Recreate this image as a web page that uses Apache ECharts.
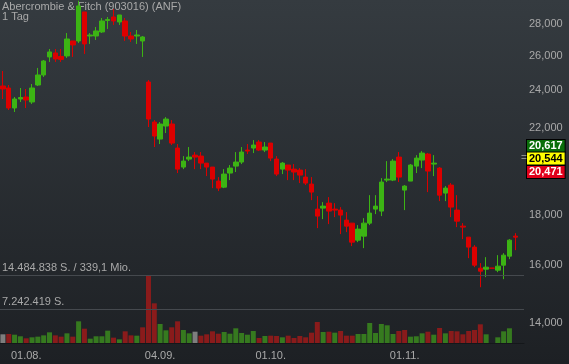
<!DOCTYPE html>
<html><head><meta charset="utf-8">
<script src="https://cdn.jsdelivr.net/npm/echarts@6/dist/echarts.min.js"></script>
<style>html,body{margin:0;padding:0;background:#26292e}#c{width:569px;height:364px}</style>
</head><body><div id="c"></div>
<script>
const titleText = 'Abercrombie & Fitch (903016) (ANF)';
const periodText = '1 Tag';
const turnoverText = '339,1 Mio.';

const dates = ['26.07.','29.07.','30.07.','31.07.','01.08.','02.08.','05.08.','06.08.','07.08.','08.08.',
'09.08.','12.08.','13.08.','14.08.','15.08.','16.08.','19.08.','20.08.','21.08.','22.08.',
'23.08.','26.08.','27.08.','28.08.','29.08.','30.08.','03.09.','04.09.','05.09.','06.09.',
'09.09.','10.09.','11.09.','12.09.','13.09.','16.09.','17.09.','18.09.','19.09.','20.09.',
'23.09.','24.09.','25.09.','26.09.','27.09.','30.09.','01.10.','02.10.','03.10.','04.10.',
'07.10.','08.10.','09.10.','10.10.','11.10.','14.10.','15.10.','16.10.','17.10.','18.10.',
'21.10.','22.10.','23.10.','24.10.','25.10.','28.10.','29.10.','30.10.','31.10.','01.11.',
'04.11.','05.11.','06.11.','07.11.','08.11.','11.11.','12.11.','13.11.','14.11.','15.11.',
'18.11.','19.11.','20.11.','21.11.','22.11.','25.11.','26.11.','27.11.','29.11.','02.12.'];

const opens = [24251,24138,23045,23529,23640,23367,24306,24877,25939,26180,
25970,26000,26918,26918,28792,27230,27230,27486,28228,28458,
28130,28195,27230,27230,26918,24475,22306,21443,22101,22203,
21001,20095,20470,20660,20613,20280,20095,19453,19182,19818,
20140,20330,20903,21001,21295,20903,21245,20470,20000,20190,
20000,19955,19633,19318,18229,18271,18484,18229,18187,17770,
17646,16964,17122,17646,18229,18145,19497,19497,20565,19050,
19453,20140,20423,20710,20235,20047,18918,19273,18187,17524,
17082,16692,15897,15860,15897,15823,16008,16346,17122];

const closes = [24082,23045,23529,23612,23474,24138,24877,25697,26241,25818,
25790,27042,26670,29196,26732,27293,27550,28195,28294,28195,
28590,27230,27042,27293,27168,22460,21594,22203,22460,21245,
20000,20375,20565,20565,20280,20095,19543,19138,19771,20047,
20330,20806,20855,21148,20903,21050,20518,19771,20280,19955,
19865,19725,19363,18962,17936,18356,18145,18187,17978,17524,
16886,17403,17646,18061,18356,19408,19543,20375,19633,19228,
20190,20518,20758,19910,20280,18829,19138,18314,17728,17484,
16692,16008,15786,15934,15897,15970,16384,16964,17082];

const lows = [23529,22936,22830,23367,23044,23260,24251,24762,25640,25640,
25640,25879,25939,26794,26120,26732,26980,27419,27678,27935,
27935,26918,26856,26732,25939,22050,21050,21197,21745,21148,
19818,20000,20375,20000,20000,19680,19138,19006,19138,19497,
19865,20235,20710,20758,20855,20806,20375,19680,19771,19497,
19497,19363,19273,18613,17443,17811,17607,17894,17203,17282,
16731,16886,16653,17565,18019,17936,19408,19453,19408,18187,
19453,19818,20047,18962,19680,18570,18570,17894,17484,17003,
16270,15934,15210,15570,15897,15750,15496,16232,16575];

const highs = [25109,24306,23640,24138,24082,24362,25286,25758,26422,26422,
26422,27419,26918,29550,28792,27419,27806,28392,28458,28990,
28590,28392,27486,27613,27230,24590,22410,22306,22562,22410,
21197,20613,21050,20806,20806,20280,20095,19633,20000,20190,
20806,21050,21197,21393,21393,21295,21245,20613,20330,20190,
20235,20047,20000,19633,18786,18527,18743,18484,18314,18103,
17646,17565,17852,18829,18829,19588,20375,20470,20806,19273,
20235,20660,20855,20758,20660,20095,19228,19363,18829,17646,
17082,16770,16085,16308,15897,16384,16460,17003,17242];

const volumes = [1850000,1920000,1770000,1430000,1000000,1210000,1350000,1630000,2270000,1630000,
1350000,2060000,1350000,4620000,3050000,920000,1430000,1430000,2630000,1140000,
780000,2490000,1630000,1560000,3340000,14484838,8450000,4050000,2700000,3340000,
4620000,2770000,2060000,2410000,1560000,1850000,2490000,1980000,2340000,1980000,
3130000,2130000,1770000,2560000,1070000,1490000,1560000,1490000,1210000,1560000,
1070000,1490000,1210000,2200000,4470000,2340000,2410000,2200000,2560000,1560000,
1560000,1920000,1920000,4260000,2130000,4050000,3770000,1920000,2560000,2770000,
1350000,1430000,2060000,2410000,1770000,3200000,2060000,2560000,2490000,1850000,
2560000,2770000,3980000,1850000,0,1210000,2490000,3130000,0];

const priceTicks = [14000,16000,18000,20000,22000,24000,26000,28000];
const dateLabels = ['01.08.','04.09.','01.10.','01.11.'];
const quoteValues = [20617, 20544, 20471];

const FONT = '"Liberation Sans", Arial, sans-serif';
const TXT = '#a9a9a9';
const UP = '#3cb414', DOWN = '#dc0000';
const VUP = '#367a1f', VDOWN = '#8a1b1b', VFLAT = '#7e7e7e';

const fmtEN = v => String(Math.round(v)).replace(/\B(?=(\d{3})+(?!\d))/g, ',');
const fmtDE = v => String(Math.round(v)).replace(/\B(?=(\d{3})+(?!\d))/g, '.');

const candles = opens.map((o, i) => [o, closes[i], lows[i], highs[i]]);
const volData = volumes.map((v, i) => {
  let c = VFLAT;
  if (i > 0) c = closes[i] > closes[i-1] ? VUP : (closes[i] < closes[i-1] ? VDOWN : VFLAT);
  return { value: v, itemStyle: { color: c } };
});
const volMax = Math.max(...volumes);

const quoteStyles = [
  { bg: '#0a6e0a', fg: '#ffffff', dy: -10 },
  { bg: '#ffff00', fg: '#000000', dy: 1 },
  { bg: '#e0001b', fg: '#ffffff', dy: 13 }
];

const chart = echarts.init(document.getElementById('c'));
chart.setOption({
  animation: false,
  backgroundColor: new echarts.graphic.LinearGradient(0, 0, 0, 1, [
    { offset: 0, color: '#353b40' }, { offset: 1, color: '#1d2024' }
  ]),
  title: {
    text: titleText + '\n' + periodText, left: 0, top: 0, padding: [2, 2], z: 0,
    textStyle: { color: TXT, fontSize: 11, fontWeight: 'normal', fontFamily: FONT, lineHeight: 10 }
  },
  grid: [
    { left: 0, top: 0, width: 524, height: 343 },
    { left: 0, top: 275, width: 524, height: 68 }
  ],
  xAxis: [
    { type: 'category', gridIndex: 0, data: dates, boundaryGap: true, show: false },
    { type: 'category', gridIndex: 1, data: dates, boundaryGap: true,
      axisLine: { lineStyle: { color: '#14171a' } }, axisTick: { show: false },
      axisLabel: { interval: (i, v) => dateLabels.includes(v), color: TXT, fontSize: 11, fontFamily: FONT, margin: 7 } }
  ],
  yAxis: [
    { type: 'log', gridIndex: 0, logBase: 10, position: 'right', min: 13365, max: 29600,
      axisLine: { show: false }, axisTick: { show: false }, splitLine: { show: false },
      axisLabel: { customValues: priceTicks, color: TXT, fontSize: 11, fontFamily: FONT, margin: 5, formatter: v => fmtEN(v) } },
    { type: 'value', gridIndex: 1, min: 0, max: volMax, show: false, splitLine: { show: false } }
  ],
  series: [
    { type: 'bar', xAxisIndex: 1, yAxisIndex: 1, data: volData, barWidth: 5, z: 2,
      markLine: { silent: true, symbol: 'none', animation: false,
        lineStyle: { color: '#45494e', width: 1, type: 'solid' },
        label: { position: 'insideStartTop', distance: [2, 2], color: TXT, fontSize: 11, fontFamily: FONT },
        data: [
          { yAxis: volMax, label: { formatter: fmtDE(volMax) + ' S. / ' + turnoverText } },
          { yAxis: volMax / 2, label: { formatter: fmtDE(volMax / 2) + ' S.' } }
        ] } },
    { type: 'candlestick', xAxisIndex: 0, yAxisIndex: 0, data: candles, barWidth: 5, z: 3,
      itemStyle: { color: UP, color0: DOWN, borderColor: UP, borderColor0: DOWN, borderColorDoji: DOWN, borderWidth: 1 },
      markLine: { silent: true, symbol: 'none', animation: false, z: 10,
        lineStyle: { color: 'rgba(0,0,0,0)', width: 1, type: 'solid' },
        data: quoteValues.map((q, k) => ({
          yAxis: q,
          label: { show: true, position: 'end', distance: 3, offset: [0, quoteStyles[k].dy],
            formatter: () => fmtEN(q), color: quoteStyles[k].fg, backgroundColor: quoteStyles[k].bg,
            borderColor: '#000', borderWidth: 1, padding: [1, 2, 0, 2], fontSize: 11, lineHeight: 11,
            fontWeight: 'bold', fontFamily: FONT }
        })).concat([{ yAxis: quoteValues[1],
          label: { show: true, position: 'end', distance: -3, offset: [0, 1], formatter: '=', color: '#8c8c8c', fontSize: 10, fontFamily: FONT } }])
      } }
  ]
});
</script></body></html>
